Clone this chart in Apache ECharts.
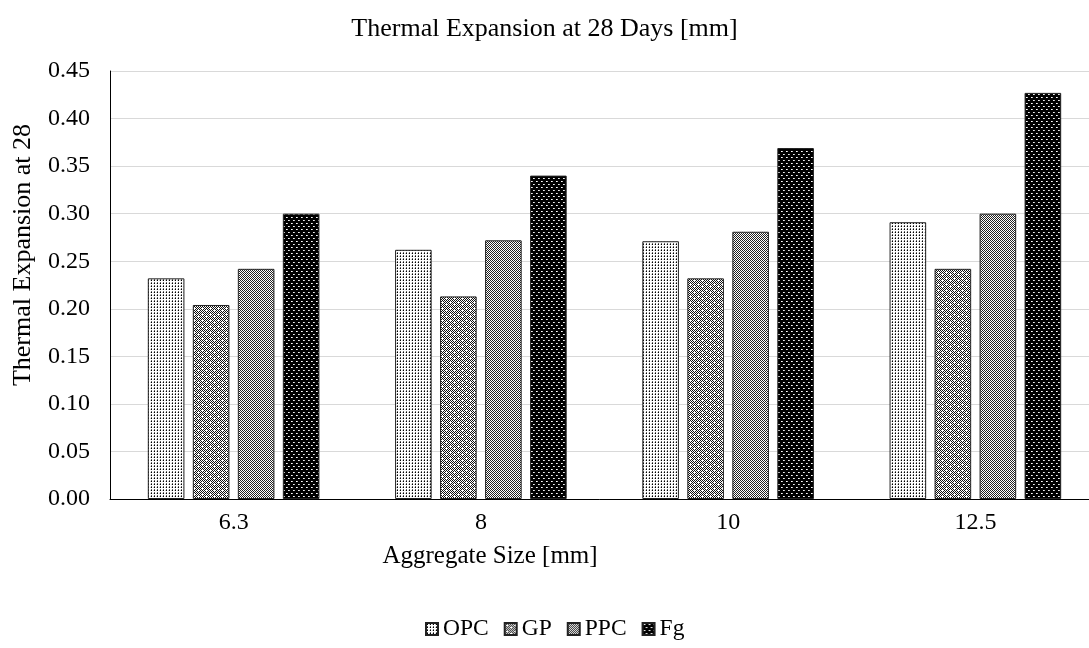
<!DOCTYPE html>
<html>
<head>
<meta charset="utf-8">
<script src="https://cdn.jsdelivr.net/npm/echarts@6/dist/echarts.min.js"></script>
<style>
  html, body { margin: 0; padding: 0; background: #fff; }
  #chart { width: 1089px; height: 648px; }
</style>
</head>
<body>
<div id="chart"></div>
<script>
// Aggregate sizes on the category axis
const categories = ['6.3', '8', '10', '12.5'];
// Thermal expansion at 28 days [mm] per binder type
const opc = [0.232, 0.262, 0.271, 0.291];
const gp  = [0.204, 0.213, 0.232, 0.242];
const ppc = [0.242, 0.272, 0.281, 0.300];
const fg  = [0.300, 0.340, 0.369, 0.427];
const seriesNames = ['OPC', 'GP', 'PPC', 'Fg'];

const FONT = 'Liberation Serif';

// Small tiled canvases used as hatch fills for the bars
function tile(w, h, draw) {
  const c = document.createElement('canvas');
  c.width = w; c.height = h;
  const ctx = c.getContext('2d');
  draw(ctx, w, h);
  return { image: c, repeat: 'repeat' };
}
function px(ctx, color, pts, s) {
  ctx.fillStyle = color;
  pts.forEach(p => ctx.fillRect(p[0], p[1], s || 1, s || 1));
}
function checker(ctx, w, h, dark) {
  ctx.fillStyle = '#fff';
  ctx.fillRect(0, 0, w, h);
  ctx.fillStyle = dark || '#000';
  for (let y = 0; y < h; y++)
    for (let x = 0; x < w; x++)
      if ((x + y) % 2 === 0) ctx.fillRect(x, y, 1, 1);
}

const patOPC = tile(3, 3, (ctx, w, h) => {
  ctx.fillStyle = '#fff'; ctx.fillRect(0, 0, w, h);
  px(ctx, '#000', [[1, 1]]);
  px(ctx, '#666', [[1, 0]]);
  px(ctx, '#ccc', [[0, 1]]);
});
const patGP = tile(8, 6, (ctx, w, h) => {
  checker(ctx, w, h, '#111');
  px(ctx, '#fff', [[2, 2], [6, 4]]);
});
const patPPC = tile(2, 2, (ctx, w, h) => {
  checker(ctx, w, h, '#222');
});
const patFG = tile(10, 6, (ctx, w, h) => {
  ctx.fillStyle = '#000'; ctx.fillRect(0, 0, w, h);
  px(ctx, '#fff', [[1, 1], [6, 1]]);
  px(ctx, '#eee', [[3, 4], [8, 4]]);
  px(ctx, '#bbb', [[2, 1], [7, 1], [4, 4], [9, 4]]);
});
const fills = [patOPC, patGP, patPPC, patFG];
const values = [opc, gp, ppc, fg];

const chart = echarts.init(document.getElementById('chart'), null, { renderer: 'canvas' });

chart.setOption({
  animation: false,
  backgroundColor: '#fff',
  title: {
    text: 'Thermal Expansion at 28 Days [mm]',
    left: 'center',
    top: 11,
    textStyle: { fontFamily: FONT, fontSize: 26, fontWeight: 'normal', color: '#000' }
  },
  legend: {
    data: seriesNames,
    bottom: 7,
    left: 425,
    padding: 0,
    icon: 'rect',
    itemWidth: 12,
    itemHeight: 12,
    itemGap: 15,
    textStyle: { fontFamily: FONT, fontSize: 23.5, color: '#000', padding: [0, 0, 0, 0] }
  },
  grid: { left: 110, top: 71, width: 989, height: 428, outerBoundsMode: 'none' },
  xAxis: {
    type: 'category',
    data: categories,
    name: 'Aggregate Size [mm]',
    nameLocation: 'middle',
    nameGap: 45,
    nameTextStyle: { fontFamily: FONT, fontSize: 25, color: '#000', padding: [0, 229, 0, 0] },
    axisLine: { lineStyle: { color: '#000', width: 1 } },
    axisTick: { show: false },
    axisLabel: { fontFamily: FONT, fontSize: 24, color: '#000', margin: 12 }
  },
  yAxis: {
    type: 'value',
    min: 0,
    max: 0.45,
    interval: 0.05,
    name: 'Thermal Expansion at 28',
    nameLocation: 'middle',
    nameGap: 74,
    nameTextStyle: { fontFamily: FONT, fontSize: 26, color: '#000', padding: [0, 0, 0, 60] },
    axisLine: { show: true, lineStyle: { color: '#000', width: 1 } },
    axisTick: { show: false },
    axisLabel: {
      fontFamily: FONT, fontSize: 24, color: '#000', margin: 20,
      formatter: v => v.toFixed(2)
    },
    splitLine: { lineStyle: { color: '#d9d9d9', width: 1 } }
  },
  series: seriesNames.map((name, i) => ({
    name,
    type: 'bar',
    data: values[i],
    barWidth: '14.8%',
    barGap: '23%',
    itemStyle: { color: fills[i], borderColor: '#222', borderWidth: 1 }
  }))
});
</script>
</body>
</html>
